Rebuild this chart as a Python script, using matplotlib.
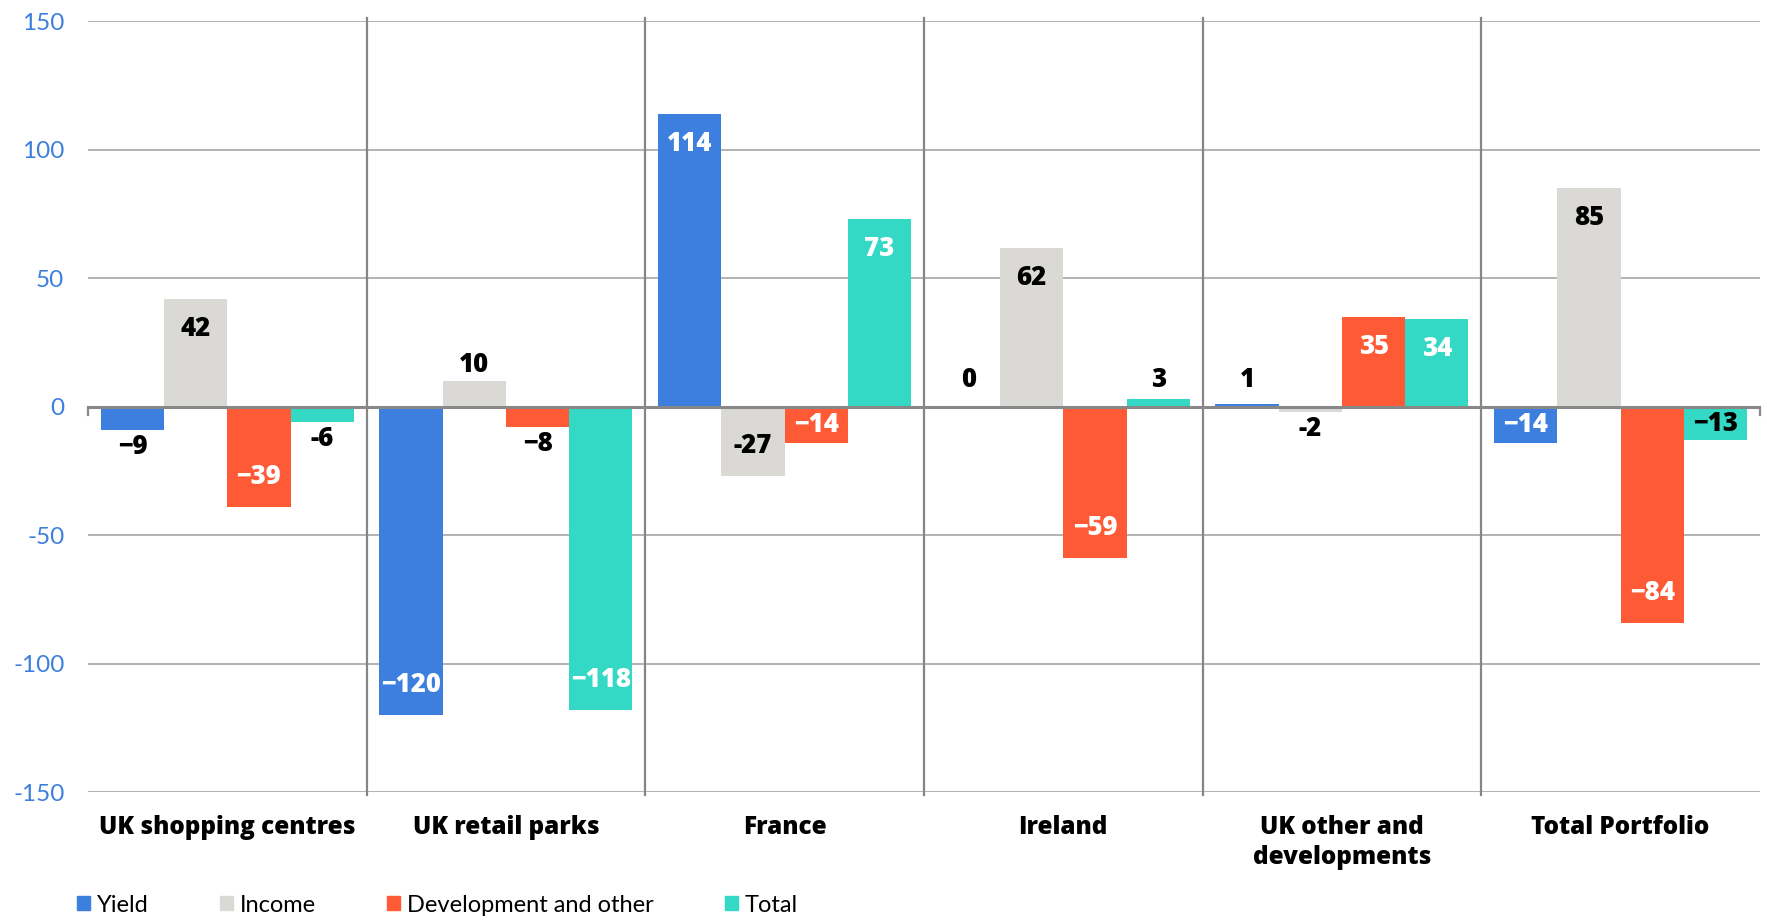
import matplotlib.pyplot as plt
from matplotlib.patches import Patch
import numpy as np

# Valuation movement by segment (£m)
categories = ["UK shopping centres", "UK retail parks", "France", "Ireland",
              "UK other and\ndevelopments", "Total Portfolio"]
yield_vals = [-9, -120, 114, 0, 1, -14]
income_vals = [42, 10, -27, 62, -2, 85]
development_vals = [-39, -8, -14, -59, 35, -84]
total_vals = [-6, -118, 73, 3, 34, -13]

series_names = ["Yield", "Income", "Development and other", "Total"]
series = [yield_vals, income_vals, development_vals, total_vals]
colors = ["#3d7fdf", "#dad9d5", "#ff5a36", "#33d9c4"]
inside_text = ["white", "black", "white", "white"]
# labels written with a short hyphen instead of a minus sign
hyphen_labels = {(3, 0), (1, 2), (1, 4)}

plt.rcParams['font.family'] = ['Lato', 'DejaVu Sans']
bold_font = ['Open Sans', 'DejaVu Sans']

fig = plt.figure(figsize=(17.67, 9.23), dpi=100)
ax = fig.add_axes([0.0498, 0.1416, 0.9462, 0.8352])

x = np.arange(len(categories))
width = 0.227
px_per_unit = 2.567
pt = 0.72  # points per pixel at 100 dpi

for si, vals in enumerate(series):
    pos = x + (si - 1.5) * width
    ax.bar(pos, vals, width, color=colors[si], zorder=3, linewidth=0)
    for ci, v in enumerate(vals):
        L = abs(v) * px_per_unit
        sign = 1 if v >= 0 else -1
        if (si, ci) in hyphen_labels:
            txt = "-%d" % abs(v)
        else:
            txt = ("\u2212%d" % abs(v)) if v < 0 else "%d" % v
        if abs(v) >= 13:
            off = -sign * min(30, L / 2)
            col = inside_text[si]
            if si == 3 and ci == 5:
                col = "black"
        else:
            col = "black"
            if v < 0:
                off = -17
            else:
                off = max(16, 27 - L)
        ax.annotate(txt, (pos[ci], v), xytext=(0, off * pt), textcoords='offset points',
                    ha='center', va='center', fontsize=18.5, fontweight='heavy',
                    family=bold_font, color=col, zorder=5)

# grid and separators
for gy in [-150, -100, -50, 50, 100, 150]:
    ax.axhline(gy, color="#a6a6a6", lw=1.2, zorder=1)
ax.axhline(0, color="#888888", lw=2.2, zorder=4)
for b in np.arange(0.5, len(categories) - 0.5, 1):
    ax.plot([b, b], [-151, 151.5], color="#858585", lw=1.6, zorder=2, clip_on=False)
for b in [-0.5, len(categories) - 0.5]:
    ax.plot([b, b], [0, -3.3], color="#888888", lw=1.6, zorder=4, clip_on=False)

ax.set_xlim(-0.5, len(categories) - 0.5)
ax.set_ylim(-150, 150)
ax.set_yticks([-150, -100, -50, 0, 50, 100, 150])
ax.set_yticklabels(["-150", "-100", "-50", "0", "50", "100", "150"])
ax.tick_params(axis='y', length=0, pad=17, labelsize=17.5, labelcolor="#3d7fdf")
ax.set_xticks(x)
ax.set_xticklabels(categories, fontsize=17.5, fontweight='heavy', family=bold_font,
                   linespacing=1.3)
ax.tick_params(axis='x', length=0, pad=16)
for s in ax.spines.values():
    s.set_visible(False)

handles = [Patch(color=c, label=n) for c, n in zip(colors, series_names)]
fig.legend(handles=handles, loc='center left', bbox_to_anchor=(0.0437, 0.0195),
           ncol=4, frameon=False, fontsize=17, handlelength=0.55, handleheight=0.55,
           handletextpad=0.3, columnspacing=3.0, borderpad=0, borderaxespad=0)

fig.savefig("out.png", dpi=100)
